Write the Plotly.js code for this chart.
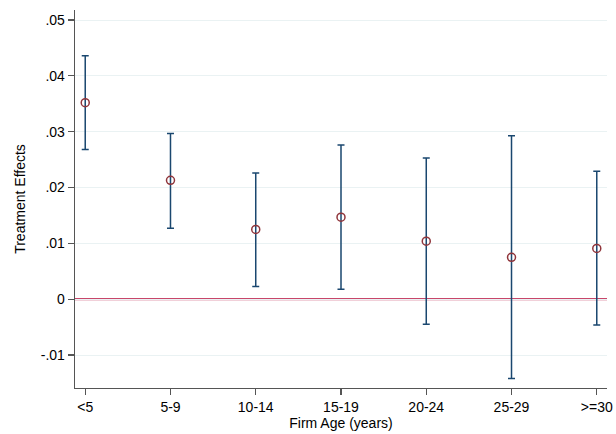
<!DOCTYPE html>
<html>
<head>
<meta charset="utf-8">
<script src="https://cdn.plot.ly/plotly-3.0.1.min.js"></script>
<style>html,body{margin:0;padding:0;background:#fff;}#chart{width:616px;height:434px;}</style>
</head>
<body>
<div id="chart"></div>
<script>
const categories = ["<5", "5-9", "10-14", "15-19", "20-24", "25-29", ">=30"];
const estimates = [0.0352, 0.0213, 0.0125, 0.0147, 0.0104, 0.0075, 0.0091];
const upperCI = [0.0436, 0.0297, 0.0226, 0.0276, 0.0253, 0.0293, 0.0229];
const lowerCI = [0.0268, 0.0127, 0.0023, 0.0018, -0.0045, -0.0142, -0.0046];
const yTickVals = [-0.01, 0, 0.01, 0.02, 0.03, 0.04, 0.05];
const yTickText = ["-.01", "0", ".01", ".02", ".03", ".04", ".05"];

const xIdx = categories.map((c, i) => i);
const errPlus = upperCI.map((u, i) => u - estimates[i]);
const errMinus = lowerCI.map((l, i) => estimates[i] - l);

const fontFam = "Liberation Sans, Arial, sans-serif";

const traces = [
  {
    x: xIdx, y: estimates, type: "scatter", mode: "markers",
    marker: {symbol: "circle-open", size: 8, color: "#90353b", line: {width: 1.5, color: "#90353b"}},
    error_y: {type: "data", symmetric: false, array: errPlus, arrayminus: errMinus,
              color: "#1a476f", thickness: 1.5, width: 3.5},
    hoverinfo: "skip", showlegend: false
  }
];

const layout = {
  width: 616, height: 434,
  margin: {l: 75, r: 9, t: 10, b: 46},
  paper_bgcolor: "#ffffff", plot_bgcolor: "#ffffff",
  font: {family: fontFam, size: 14, color: "#000"},
  showlegend: false,
  xaxis: {
    range: [-0.12, 6.12],
    tickvals: xIdx, ticktext: categories,
    showgrid: false, zeroline: false,
    showline: true, linecolor: "#555555", linewidth: 1.3,
    ticks: "outside", ticklen: 6, tickcolor: "#555555", tickwidth: 1.2,
    tickfont: {family: fontFam, size: 14, color: "#000"},
    title: {text: "Firm Age (years)", font: {family: fontFam, size: 14, color: "#000"}, standoff: 1}
  },
  yaxis: {
    range: [-0.0159, 0.0518],
    tickvals: yTickVals, ticktext: yTickText,
    showgrid: true, gridcolor: "#eaf2f3", gridwidth: 1,
    zeroline: false,
    showline: true, linecolor: "#555555", linewidth: 1.3,
    ticks: "outside", ticklen: 6, tickcolor: "#555555", tickwidth: 1.2,
    tickfont: {family: fontFam, size: 14, color: "#000"},
    title: {text: "Treatment Effects", font: {family: fontFam, size: 14, color: "#000"}, standoff: 12}
  },
  shapes: [
    {type: "line", xref: "paper", yref: "y", x0: 0, x1: 1, y0: 0, y1: 0,
     line: {color: "#c8466a", width: 2.2}, layer: "between"}
  ]
};

Plotly.newPlot("chart", traces, layout, {staticPlot: true, displayModeBar: false});
</script>
</body>
</html>
